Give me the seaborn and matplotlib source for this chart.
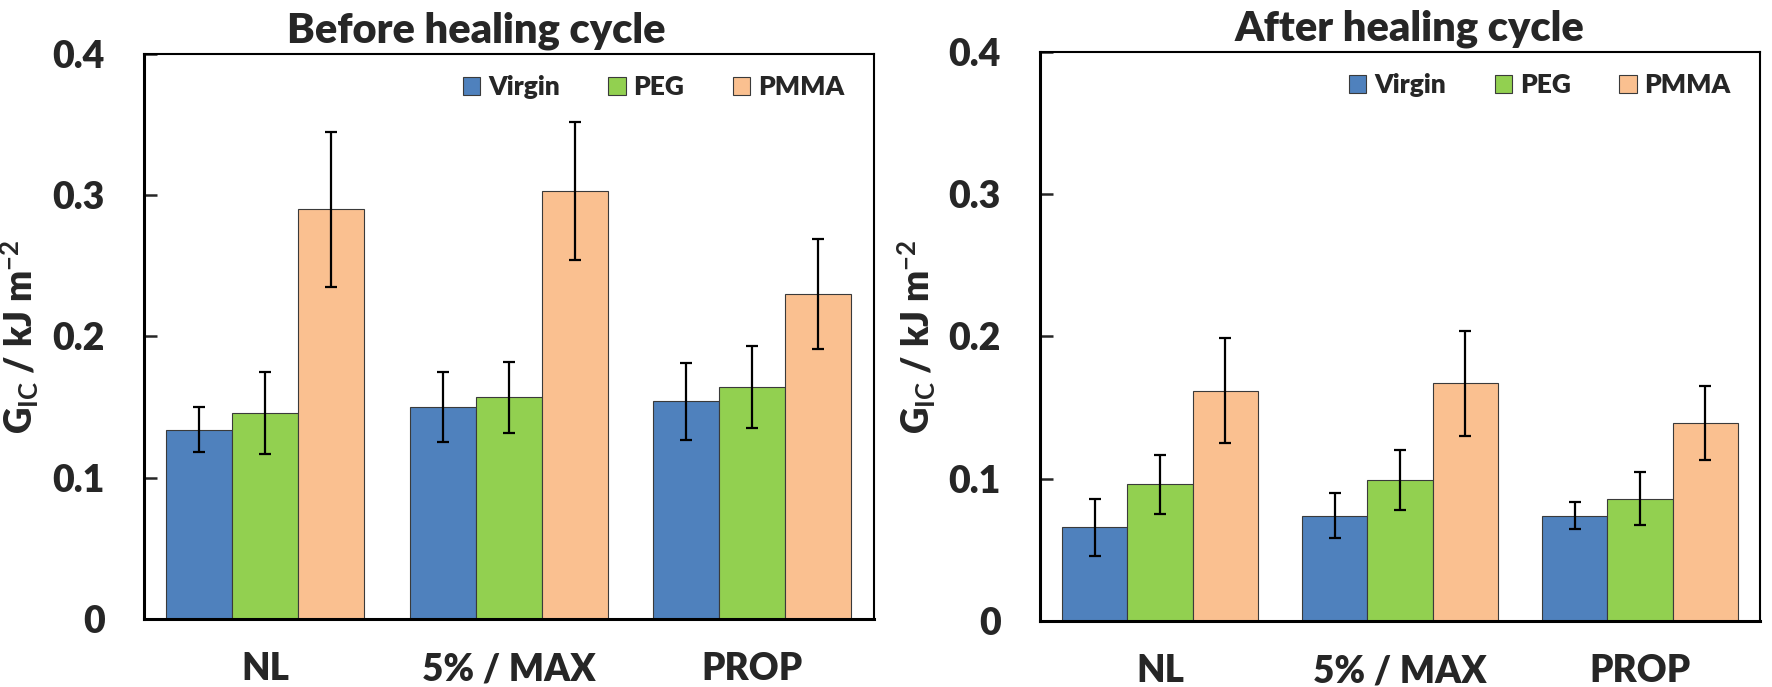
import numpy as np
import pandas as pd
import matplotlib
matplotlib.use("Agg")
import matplotlib.pyplot as plt
import seaborn as sns

# Sample groups and treatments
categories = ["NL", "5% / MAX", "PROP"]
treatments = ["Virgin", "PEG", "PMMA"]

# Fracture energy G_IC (kJ m^-2), mean and error, per treatment across the groups
before_mean = {
    "Virgin": [0.134, 0.150, 0.154],
    "PEG": [0.146, 0.157, 0.164],
    "PMMA": [0.290, 0.303, 0.230],
}
before_err = {
    "Virgin": [0.016, 0.025, 0.027],
    "PEG": [0.029, 0.025, 0.029],
    "PMMA": [0.055, 0.049, 0.039],
}
after_mean = {
    "Virgin": [0.066, 0.074, 0.074],
    "PEG": [0.096, 0.099, 0.086],
    "PMMA": [0.162, 0.167, 0.139],
}
after_err = {
    "Virgin": [0.020, 0.016, 0.0095],
    "PEG": [0.021, 0.021, 0.0185],
    "PMMA": [0.037, 0.037, 0.026],
}

panel_titles = ["Before healing cycle", "After healing cycle"]
y_ticks = [0, 0.1, 0.2, 0.3, 0.4]
y_ticklabels = ["0", "0.1", "0.2", "0.3", "0.4"]
colors = ["#4F81BD", "#92D050", "#FAC090"]

WEIGHT = "heavy"

sns.set_theme(style="white")
plt.rcParams["font.family"] = ["Lato", "DejaVu Sans"]
plt.rcParams["font.weight"] = WEIGHT
plt.rcParams["mathtext.fontset"] = "custom"
plt.rcParams["mathtext.rm"] = "Lato:bold"
plt.rcParams["mathtext.it"] = "Lato:bold"
plt.rcParams["mathtext.bf"] = "Lato:bold"


def to_frame(means, errs):
    rows = []
    for t in treatments:
        for c, m, e in zip(categories, means[t], errs[t]):
            rows.append({"group": c, "treatment": t, "value": m, "err": e})
    return pd.DataFrame(rows)


fig = plt.figure(figsize=(17.72, 6.87), dpi=100)
ax_left = fig.add_axes([0.0810, 0.0990, 0.4122, 0.8224])
ax_right = fig.add_axes([0.5869, 0.0961, 0.4063, 0.8282])

panels = [
    (ax_left, to_frame(before_mean, before_err), panel_titles[0], 0.455),
    (ax_right, to_frame(after_mean, after_err), panel_titles[1], 0.513),
]

for ax, df, title, tx in panels:
    sns.barplot(
        data=df, x="group", y="value", hue="treatment",
        order=categories, hue_order=treatments, palette=colors,
        errorbar=None, width=0.815, edgecolor="#3a3a3a", linewidth=0.8,
        saturation=1, ax=ax,
    )
    # error bars centred on each drawn bar
    for t, cont in zip(treatments, ax.containers):
        sub = df[df["treatment"] == t].set_index("group").loc[categories]
        xs = [p.get_x() + p.get_width() / 2 for p in cont.patches]
        hs = [p.get_height() for p in cont.patches]
        ax.errorbar(xs, hs, yerr=sub["err"].values, fmt="none",
                    ecolor="black", elinewidth=1.6, capsize=4.2,
                    capthick=1.6, zorder=5)

    ax.set_ylim(0, 0.4)
    ax.set_xlim(-0.5, 2.5)
    ax.set_yticks(y_ticks)
    ax.set_yticklabels(y_ticklabels)
    ax.set_xlabel("")
    ax.set_ylabel(r"G$_{\mathrm{IC}}$ / kJ m$^{\mathrm{-2}}$",
                  fontsize=26.5, fontweight=WEIGHT, labelpad=8)
    ax.set_title(title, fontsize=30, fontweight=WEIGHT, x=tx, pad=8)

    ax.tick_params(axis="y", direction="in", length=9, width=1.8,
                   pad=28, labelsize=27, left=True)
    ax.tick_params(axis="x", length=0, pad=24, labelsize=26.5)
    for lab in ax.get_xticklabels() + ax.get_yticklabels():
        lab.set_fontweight(WEIGHT)

    for side in ["left", "bottom"]:
        ax.spines[side].set_linewidth(2.2)
        ax.spines[side].set_color("black")
    for side in ["top", "right"]:
        ax.spines[side].set_linewidth(1.5)
        ax.spines[side].set_color("black")

    leg = ax.legend(
        loc="upper right", bbox_to_anchor=(0.985, 0.995), ncol=3,
        frameon=False, fontsize=19, handlelength=0.65, handleheight=0.65,
        handletextpad=0.3, columnspacing=1.85, borderaxespad=0.3,
    )
    for txt in leg.get_texts():
        txt.set_fontweight(WEIGHT)

fig.savefig("out.png", dpi=100, facecolor="white")
